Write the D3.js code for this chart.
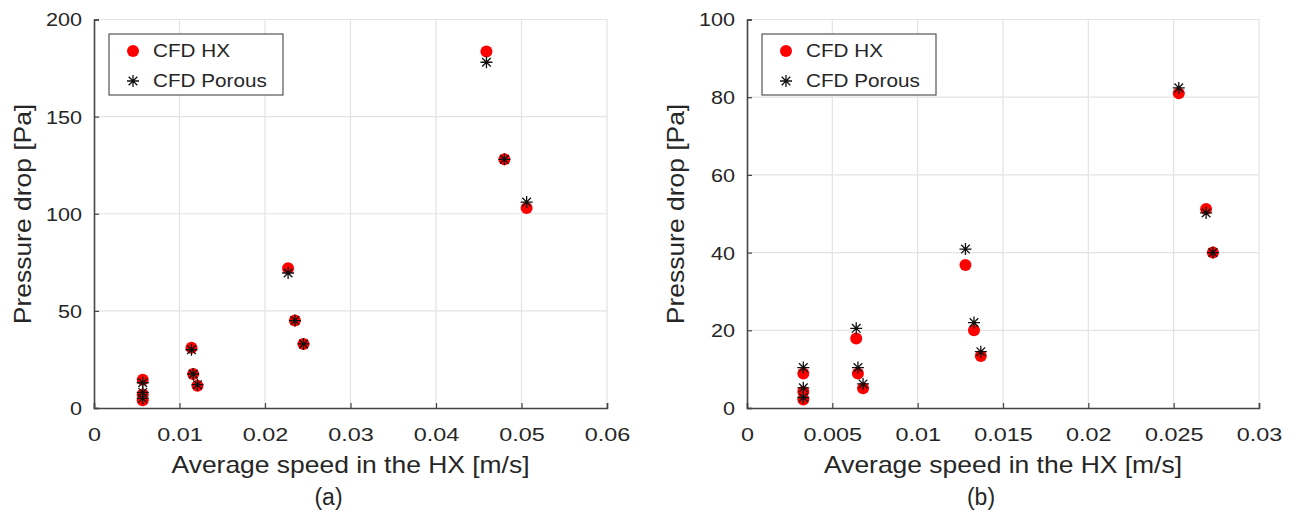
<!DOCTYPE html>
<html>
<head>
<meta charset="utf-8">
<script src="https://cdn.jsdelivr.net/npm/d3@7"></script>
<style>
  body { margin: 0; background: #fff; }
  svg text { font-family: "Liberation Sans", Arial, sans-serif; fill: #262626; }
</style>
</head>
<body>
<div id="chart"></div>
<script>
// panel (a)
const speedA   = [0.0057, 0.0057, 0.0057, 0.0114, 0.0116, 0.0121, 0.0227, 0.0235, 0.0245, 0.0459, 0.0480, 0.0506];
const hxA      = [14.5, 7.0, 4.0, 31.0, 17.5, 11.5, 72.0, 45.0, 33.0, 183.5, 128.0, 103.0];
const porousA  = [13.0, 8.0, 5.0, 30.0, 17.5, 12.0, 69.5, 45.0, 33.0, 178.0, 128.0, 106.0];
const xTicksA  = [0, 0.01, 0.02, 0.03, 0.04, 0.05, 0.06];
const yTicksA  = [0, 50, 100, 150, 200];

// panel (b)
const speedB   = [0.0033, 0.0033, 0.0033, 0.0064, 0.0065, 0.0068, 0.0128, 0.0133, 0.0137, 0.0253, 0.0269, 0.0273];
const hxB      = [8.9, 4.2, 2.2, 17.9, 8.9, 5.1, 36.8, 20.0, 13.4, 81.0, 51.2, 40.0];
const porousB  = [10.4, 5.2, 2.7, 20.5, 10.4, 6.2, 40.9, 22.0, 14.5, 82.4, 50.2, 40.0];
const xTicksB  = [0, 0.005, 0.01, 0.015, 0.02, 0.025, 0.03];
const yTicksB  = [0, 20, 40, 60, 80, 100];

const seriesNames = ["CFD HX", "CFD Porous"];
const xLabel = "Average speed in the HX [m/s]";
const yLabel = "Pressure drop [Pa]";

const W = 1297, H = 518;
const svg = d3.select("#chart").append("svg")
    .attr("width", W).attr("height", H);
svg.append("rect").attr("width", W).attr("height", H).attr("fill", "#fff");

const starPath = (() => {
    const r = 6, d = 4.3;
    return `M${-r},0L${r},0M0,${-r}L0,${r}M${-d},${-d}L${d},${d}M${-d},${d}L${d},${-d}`;
})();

function panel(o) {
    const x = d3.scaleLinear().domain([0, o.xMax]).range([o.left, o.right]);
    const y = d3.scaleLinear().domain([0, o.yMax]).range([408, 19.5]);
    const g = svg.append("g");

    // grid
    g.selectAll(".gx").data(o.xTicks.slice(1)).enter().append("line")
        .attr("x1", d => x(d)).attr("x2", d => x(d))
        .attr("y1", y(0)).attr("y2", y(o.yMax))
        .attr("stroke", "#e3e3e3").attr("stroke-width", 1.2);
    g.selectAll(".gy").data(o.yTicks.slice(1)).enter().append("line")
        .attr("x1", x(0)).attr("x2", x(o.xMax))
        .attr("y1", d => y(d)).attr("y2", d => y(d))
        .attr("stroke", "#e3e3e3").attr("stroke-width", 1.2);

    // axes (ticks inward like matlab)
    const xa = g.append("g").attr("transform", `translate(0,${y(0)})`)
        .call(d3.axisBottom(x).tickValues(o.xTicks).tickSize(-5).tickPadding(20)
            .tickFormat(d => d === 0 ? "0" : String(+d.toFixed(3))));
    const ya = g.append("g").attr("transform", `translate(${x(0)},0)`)
        .call(d3.axisLeft(y).tickValues(o.yTicks).tickSize(-5).tickPadding(10));
    [xa, ya].forEach(a => {
        a.select(".domain").attr("stroke", "#444").attr("stroke-width", 1.6);
        a.selectAll(".tick line").attr("stroke", "#444").attr("stroke-width", 1.2);
        a.selectAll("text").attr("font-size", 18).attr("fill", "#3a3a3a")
            .style("font-family", "'Liberation Sans', Arial, sans-serif");
    });
    xa.selectAll(".tick text").attr("transform", "scale(1.3,1)");
    ya.selectAll(".tick text").attr("transform", "scale(1.2,1)").attr("dy", "0.36em");

    // points
    g.selectAll(".hx").data(o.speed.map((s, i) => [s, o.hx[i]])).enter()
        .append("circle")
        .attr("cx", d => x(d[0])).attr("cy", d => y(d[1]))
        .attr("r", 6).attr("fill", "#ff0000");
    g.selectAll(".po").data(o.speed.map((s, i) => [s, o.porous[i]])).enter()
        .append("path")
        .attr("d", starPath)
        .attr("transform", d => `translate(${x(d[0])},${y(d[1])})`)
        .attr("stroke", "#111").attr("stroke-width", 1.3).attr("fill", "none");

    // legend
    const lg = g.append("g").attr("transform", `translate(${o.left + 15},34)`);
    lg.append("rect").attr("width", 174).attr("height", 61)
        .attr("fill", "#fff").attr("stroke", "#555").attr("stroke-width", 1.2);
    lg.append("circle").attr("cx", 24).attr("cy", 17).attr("r", 6).attr("fill", "#ff0000");
    lg.append("path").attr("d", starPath).attr("transform", "translate(24,47)")
        .attr("stroke", "#111").attr("stroke-width", 1.3).attr("fill", "none");
    seriesNames.forEach((n, i) => {
        lg.append("text").attr("x", 0).attr("y", 0)
            .attr("transform", `translate(44,${23 + i * 30}) scale(1.15,1)`)
            .attr("font-size", 18).attr("fill", "#333").text(n);
    });

    // labels
    const cx = (o.left + o.right) / 2;
    g.append("text").attr("text-anchor", "middle")
        .attr("transform", `translate(${cx},${473}) scale(1.15,1)`)
        .attr("font-size", 23).attr("fill", "#333").text(xLabel);
    g.append("text").attr("text-anchor", "middle")
        .attr("transform", `translate(${o.left - 63},214) rotate(-90) scale(1.15,1)`)
        .attr("font-size", 23).attr("fill", "#333").text(yLabel);
    g.append("text").attr("text-anchor", "middle")
        .attr("transform", `translate(${cx - 22},${505})`)
        .attr("font-size", 23).attr("fill", "#333").text(o.tag);
}

panel({ left: 94, right: 607, xMax: 0.06, yMax: 200, xTicks: xTicksA, yTicks: yTicksA,
        speed: speedA, hx: hxA, porous: porousA, tag: "(a)" });
panel({ left: 747, right: 1259, xMax: 0.03, yMax: 100, xTicks: xTicksB, yTicks: yTicksB,
        speed: speedB, hx: hxB, porous: porousB, tag: "(b)" });
</script>
</body>
</html>
